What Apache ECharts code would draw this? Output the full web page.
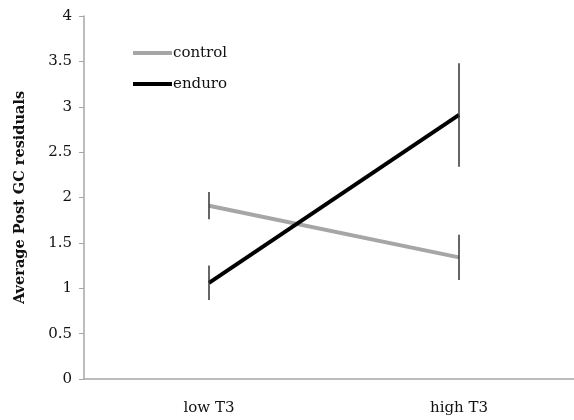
<!DOCTYPE html>
<html>
<head>
<meta charset="utf-8">
<script src="https://cdn.jsdelivr.net/npm/echarts@6/dist/echarts.min.js"></script>
<style>
  html, body { margin: 0; padding: 0; background: #fff; }
  #chart { width: 574px; height: 420px; }
</style>
</head>
<body>
<div id="chart"></div>
<script>
const categories = ['low T3', 'high T3']
const controlMeans = [1.91, 1.34]
const controlErr = [0.15, 0.25]
const enduroMeans = [1.06, 2.91]
const enduroErr = [0.19, 0.57]

const FONT = 'DejaVu Serif'

const errorData = (means, errs) =>
  means.map((m, i) => [i, m - errs[i], m + errs[i]])

const renderErrorBar = (params, api) => {
  const top = api.coord([api.value(0), api.value(2)])
  const bottom = api.coord([api.value(0), api.value(1)])
  return {
    type: 'line',
    shape: { x1: top[0], y1: top[1], x2: bottom[0], y2: bottom[1] },
    style: { stroke: '#333', lineWidth: 1.5 }
  }
}

const chart = echarts.init(document.getElementById('chart'))

chart.setOption({
  animation: false,
  backgroundColor: '#fff',
  grid: {
    left: 84,
    right: -10,
    top: 16,
    bottom: 41,
    containLabel: false,
    outerBoundsMode: 'none'
  },
  legend: {
    left: 128,
    top: 39,
    orient: 'vertical',
    icon: 'rect',
    itemWidth: 39,
    itemHeight: 4,
    itemGap: 13,
    data: ['control', 'enduro'],
    textStyle: {
      fontFamily: FONT,
      fontSize: 15,
      color: '#111',
      lineHeight: 18,
      padding: [0, 0, 0, -4]
    }
  },
  xAxis: {
    type: 'category',
    data: categories,
    boundaryGap: true,
    axisLine: { lineStyle: { color: '#a6a6a6', width: 1.5 } },
    axisTick: { show: false },
    axisLabel: { fontFamily: FONT, fontSize: 15, color: '#111', margin: 22 }
  },
  yAxis: {
    type: 'value',
    min: 0,
    max: 4,
    interval: 0.5,
    name: 'Average Post GC residuals',
    nameLocation: 'middle',
    nameGap: 56,
    nameTextStyle: { fontFamily: FONT, fontSize: 14.5, fontWeight: 'bold', color: '#111' },
    axisLine: { show: true, lineStyle: { color: '#a6a6a6', width: 1.5 } },
    axisTick: { show: true, length: 5, lineStyle: { color: '#a6a6a6' } },
    splitLine: { show: false },
    axisLabel: { fontFamily: FONT, fontSize: 15, color: '#111', margin: 12 }
  },
  series: [
    {
      name: 'control',
      type: 'line',
      data: controlMeans,
      showSymbol: false,
      color: '#a6a6a6',
      lineStyle: { color: '#a6a6a6', width: 4 },
      z: 3
    },
    {
      name: 'enduro',
      type: 'line',
      data: enduroMeans,
      showSymbol: false,
      color: '#000',
      lineStyle: { color: '#000', width: 4 },
      z: 3
    },
    {
      type: 'custom',
      data: errorData(controlMeans, controlErr),
      renderItem: renderErrorBar,
      z: 4
    },
    {
      type: 'custom',
      data: errorData(enduroMeans, enduroErr),
      renderItem: renderErrorBar,
      z: 4
    }
  ]
})
</script>
</body>
</html>
